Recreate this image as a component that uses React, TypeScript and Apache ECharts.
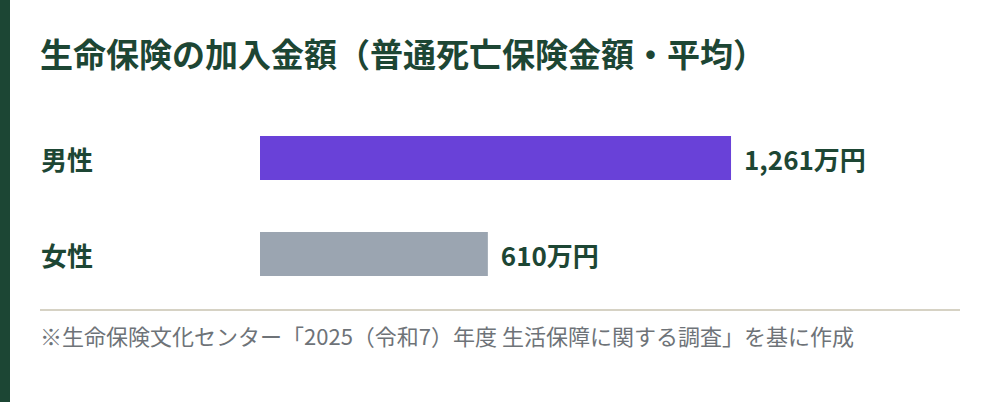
import React, { useEffect, useRef } from "react";
import * as echarts from "echarts";

const titleText = "生命保険の加入金額（普通死亡保険金額・平均）";
const noteText = "※生命保険文化センター「2025（令和7）年度 生活保障に関する調査」を基に作成";
const categories = ["男性", "女性"];
const values = [1261, 610];
const barColors = ["#6941d8", "#9ba5b1"];
const unit = "万円";

const FONT = '"Noto Sans CJK JP", "Noto Sans", sans-serif';
const DARK = "#1d4634";

export default function App() {
  const ref = useRef<HTMLDivElement>(null);
  useEffect(() => {
    document.body.style.margin = "0";
    const chart = echarts.init(ref.current!, null, { renderer: "svg" });
    chart.setOption({
      animation: false,
      backgroundColor: "#ffffff",
      grid: { left: 260, right: 40, top: 110, height: 192, containLabel: false },
      xAxis: {
        type: "value",
        min: 0,
        max: 1874,
        show: false,
      },
      yAxis: {
        type: "category",
        data: categories,
        inverse: true,
        axisLine: { show: false },
        axisTick: { show: false },
        splitLine: { show: false },
        axisLabel: {
          align: "left",
          margin: 219,
          fontFamily: FONT,
          fontSize: 26,
          fontWeight: "bold",
          color: DARK,
        },
      },
      series: [
        {
          type: "bar",
          data: values.map((v, i) => ({ value: v, itemStyle: { color: barColors[i] } })),
          barWidth: 44,
          label: {
            show: true,
            position: "right",
            distance: 13,
            fontFamily: FONT,
            fontSize: 26,
            fontWeight: "bold",
            color: DARK,
            formatter: (p: any) => Number(p.value).toLocaleString("en-US") + unit,
          },
        },
      ],
      graphic: [
        { type: "rect", shape: { x: 0, y: 0, width: 10, height: 402 }, style: { fill: "#1c4634" } },
        {
          type: "text",
          x: 40,
          y: 53,
          style: {
            text: titleText,
            font: `bold 33px ${FONT}`,
            fill: DARK,
            verticalAlign: "middle",
            align: "left",
          },
        },
        {
          type: "line",
          shape: { x1: 40, y1: 310, x2: 960, y2: 310 },
          style: { stroke: "#d6d2c4", lineWidth: 2 },
        },
        {
          type: "text",
          x: 40,
          y: 335,
          style: {
            text: noteText,
            font: `22px ${FONT}`,
            fill: "#6e7378",
            verticalAlign: "middle",
            align: "left",
          },
        },
      ],
    });
    return () => chart.dispose();
  }, []);
  return <div ref={ref} style={{ width: 1000, height: 402 }} />;
}
